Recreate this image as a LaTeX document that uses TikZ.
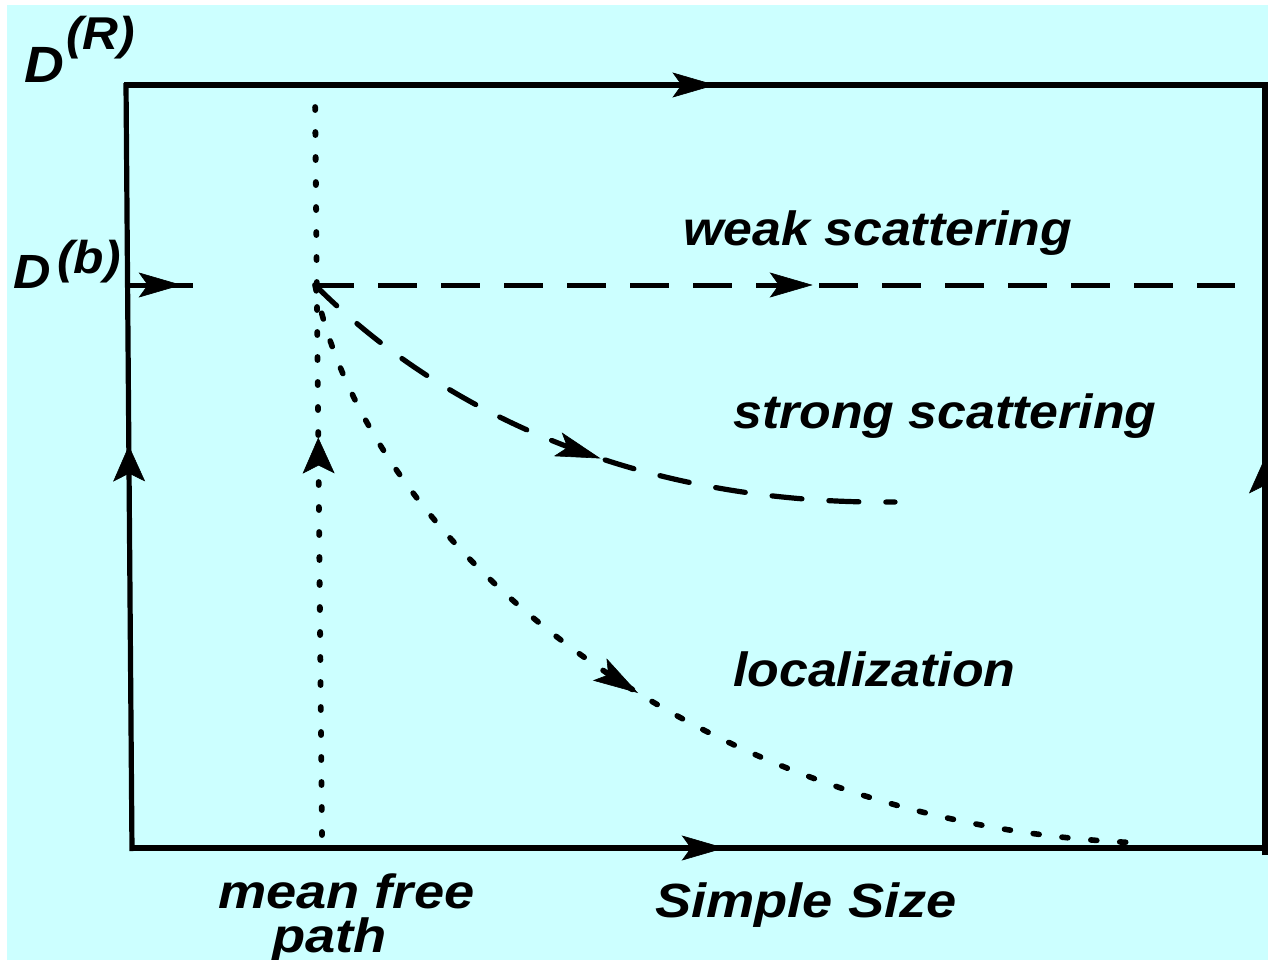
\documentclass[tikz,border=0pt]{standalone}
\usepackage{fontspec}
\setmainfont{Liberation Sans}
\usetikzlibrary{arrows.meta,decorations.markings}
\definecolor{bgcyan}{RGB}{204,255,255}
\tikzset{
  marr/.style n args={4}{postaction={decorate,decoration={markings,
      mark=at position #1 with {\arrow[solid,line width=0.6pt]{Stealth[length=#2,width=#3,inset=#4]}}}}},
  frame/.style={line width=5.2pt},
  hdash/.style={line width=5pt,dash pattern=on 39pt off 24pt},
  cdash/.style={line width=5.2pt,line cap=round,dash pattern=on 30pt off 27pt},
  vdot/.style={line width=5.8pt,line cap=round,dash pattern=on 3pt off 22pt},
  cdot/.style={line width=5.6pt,line cap=round,dash pattern=on 6pt off 23pt},
  lbl/.style={inner sep=0pt,anchor=base west,font=\fontsize{48}{52}\selectfont\bfseries\itshape},
  sup/.style={inner sep=0pt,anchor=base west,font=\fontsize{46}{50}\selectfont\bfseries\itshape},
}
\newcommand{\wtext}[1]{\scalebox{1.08}[1]{#1}}
\newcommand{\wwtext}[1]{\scalebox{1.13}[1]{#1}}
\begin{document}
\begin{tikzpicture}[x=1pt,y=-1pt]
\useasboundingbox (0,0) rectangle (1268,960);
\fill[white] (0,0) rectangle (1268,960);
\fill[bgcyan] (7,5) rectangle (1268,960);
% corners and points
\coordinate (tl) at (124,85);
\coordinate (tr) at (1268,85);
\coordinate (lt) at (126,83);
\coordinate (lb) at (132,851);
\coordinate (bl) at (130,848);
\coordinate (br) at (1265,848);
\coordinate (rb) at (1265,855);
\coordinate (rt) at (1265,83);
\coordinate (bs) at (130,285);
\coordinate (be) at (193,285);
\coordinate (o) at (315,285);
\coordinate (he) at (1235,285);
\coordinate (vt) at (315,92);
\coordinate (vb) at (322,835);
\coordinate (ce) at (895,502);
\coordinate (de) at (1145,843);
% frame
\draw[frame,marr={0.517}{43pt}{25pt}{9pt}] (tl) -- (tr);
\draw[frame,marr={0.524}{43pt}{25pt}{9pt}] (bl) -- (br);
\draw[frame,marr={0.528}{36pt}{32pt}{8pt}] (lb) -- (lt);
\draw[frame,marr={0.515}{36pt}{32pt}{8pt}] (rb) -- (rt);
% D^(b) arrow
\draw[line width=5pt,marr={0.82}{43pt}{25pt}{9pt}] (bs) -- (be);
% weak scattering dashed line
\draw[hdash,marr={0.541}{43pt}{25pt}{9pt}] (o) -- (he);
% mean free path dotted vertical
\draw[vdot,marr={0.535}{36pt}{32pt}{8pt}] (vb) -- (vt);
% strong scattering curve
\draw[cdash,marr={0.53}{45pt}{25pt}{10pt}] (o) .. controls (450,420) and (650,505) .. (ce);
% localization curve
\draw[cdot,marr={0.5}{45pt}{26pt}{10pt}] (o) .. controls (370,560) and (720,830) .. (de);
% labels
\node[lbl,font=\fontsize{51}{54}\selectfont\bfseries\itshape] (dr) at (24,83) {\wtext{D}};
\node[sup] (drs) at (66,50) {\wtext{(R)}};
\node[lbl] (db) at (13,288) {\wtext{D}};
\node[sup] (dbs) at (57,273) {\wtext{(b)}};
\node[lbl] (weak) at (683,245) {\wtext{weak scattering}};
\node[lbl] (strong) at (733,428) {\wtext{strong scattering}};
\node[lbl] (loc) at (733,686) {\wtext{localization}};
\node[lbl] (size) at (655,917) {\wwtext{Simple Size}};
\node[lbl] (mfp1) at (218,908) {\wwtext{mean free}};
\node[lbl] (mfp2) at (272,952) {\wwtext{path}};
\end{tikzpicture}
\end{document}
